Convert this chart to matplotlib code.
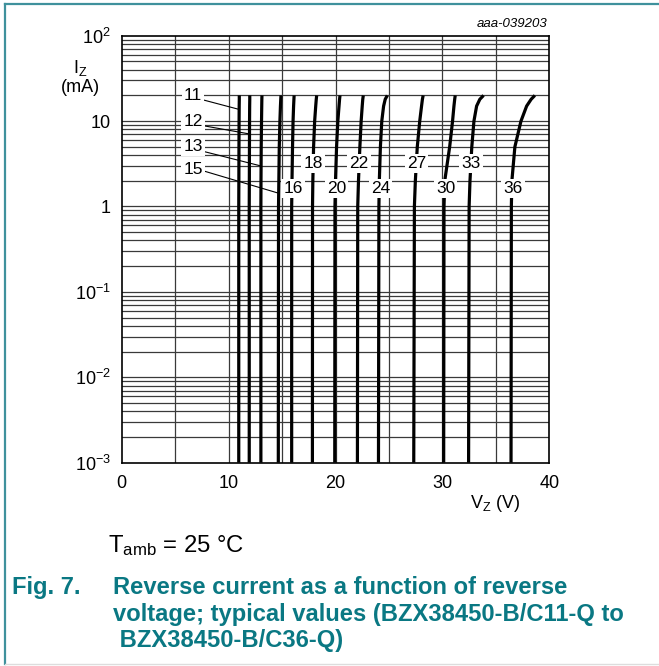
import numpy as np
import matplotlib
matplotlib.use('Agg')
import matplotlib.pyplot as plt
from matplotlib.lines import Line2D

plt.rcParams['font.family'] = ['Liberation Sans', 'DejaVu Sans']
plt.rcParams['mathtext.fontset'] = 'custom'
plt.rcParams['mathtext.rm'] = 'Liberation Sans'
plt.rcParams['mathtext.it'] = 'Liberation Sans:italic'
plt.rcParams['mathtext.bf'] = 'Liberation Sans:bold'

# ---- data ----
current_levels = [0.001, 1, 2, 5, 10, 15, 18, 20]  # I_Z (mA)
curve_labels = ['11', '12', '13', '15', '16', '18', '20', '22', '24', '27', '30', '33', '36']
vz_11 = [10.95, 10.95, 10.96, 10.97, 10.98, 10.99, 11.00, 11.00]
vz_12 = [11.93, 11.93, 11.94, 11.95, 11.96, 11.97, 11.98, 11.98]
vz_13 = [13.02, 13.02, 13.03, 13.05, 13.08, 13.10, 13.11, 13.12]
vz_15 = [14.65, 14.67, 14.70, 14.74, 14.80, 14.85, 14.88, 14.90]
vz_16 = [15.90, 15.90, 15.93, 15.98, 16.03, 16.08, 16.11, 16.13]
vz_18 = [17.84, 17.85, 17.88, 17.95, 18.05, 18.15, 18.20, 18.24]
vz_20 = [19.93, 19.95, 20.00, 20.10, 20.22, 20.33, 20.38, 20.42]
vz_22 = [22.05, 22.08, 22.15, 22.28, 22.40, 22.50, 22.55, 22.60]
vz_24 = [24.02, 24.06, 24.10, 24.20, 24.33, 24.50, 24.65, 24.85]
vz_27 = [27.32, 27.38, 27.47, 27.65, 27.88, 28.05, 28.13, 28.20]
vz_30 = [30.12, 30.15, 30.22, 30.68, 30.95, 31.08, 31.15, 31.20]
vz_33 = [32.45, 32.50, 32.58, 32.75, 32.95, 33.20, 33.50, 33.85]
vz_36 = [36.42, 36.45, 36.50, 36.78, 37.35, 37.88, 38.30, 38.65]
curves = [vz_11, vz_12, vz_13, vz_15, vz_16, vz_18, vz_20, vz_22, vz_24,
          vz_27, vz_30, vz_33, vz_36]

x_ticks = [0, 10, 20, 30, 40]
x_tick_labels = ['0', '10', '20', '30', '40']
y_ticks = [1e-3, 1e-2, 1e-1, 1, 10, 100]
y_tick_labels = ['$10^{-3}$', '$10^{-2}$', '$10^{-1}$', '1', '10', '$10^{2}$']

# label layout
left_labels = ['11', '12', '13', '15']
left_label_I = [20, 10, 5, 2.68]
left_leader_end_I = [13.7, 7.07, 2.98, 1.43]
row1_labels = ['18', '22', '27', '33']
row2_labels = ['16', '20', '24', '30', '36']
row1_I = 3.2
row2_I = 1.63

fig = plt.figure(figsize=(6.59, 6.66), dpi=100)
W, H = 659, 666

# outer frame
teal = '#3f919c'
fig.add_artist(Line2D([5 / W, 1.0], [1 - 4 / H, 1 - 4 / H], color=teal, lw=1.6, transform=fig.transFigure))
fig.add_artist(Line2D([5 / W, 5 / W], [1 - 4 / H, 2 / H], color=teal, lw=1.6, transform=fig.transFigure))
fig.add_artist(Line2D([5 / W, 1.0], [2.5 / H, 2.5 / H], color='#dddddd', lw=1.0, transform=fig.transFigure))

ax = fig.add_axes([121.7 / W, 1 - 462.7 / H, 427.6 / W, 427.0 / H])
ax.set_yscale('log')
ax.set_xlim(0, 40)
ax.set_ylim(1e-3, 100)

# grid
gcol = '#3a3a3a'
for v in [5, 10, 15, 20, 25, 30, 35]:
    ax.axvline(v, color=gcol, lw=0.9, zorder=1)
for d in range(-3, 2):
    for m in range(1, 10):
        val = m * 10.0 ** d
        if val > 1e-3:
            ax.axhline(val, color=gcol, lw=0.9, zorder=1)
for s in ax.spines.values():
    s.set_linewidth(1.2)
    s.set_color('black')

ax.set_xticks(x_ticks)
ax.set_xticklabels(x_tick_labels, fontsize=13)
ax.set_yticks(y_ticks)
ax.set_yticklabels(y_tick_labels, fontsize=13)
ax.minorticks_off()
ax.tick_params(axis='y', length=0, pad=8)
ax.tick_params(axis='x', length=0, pad=9)

logI = np.log10(current_levels)
for vz in curves:
    ax.plot(vz, current_levels, color='black', lw=2.3, zorder=3, solid_capstyle='butt', solid_joinstyle='round')

def v_at(lbl, I):
    vz = curves[curve_labels.index(lbl)]
    return float(np.interp(np.log10(I), logI, vz))

bbox = dict(boxstyle='square,pad=0.12', fc='white', ec='none')
lab_font = dict(fontsize=12.5, family=['Liberation Sans', 'DejaVu Sans'])
for lbl, I, Ie in zip(left_labels, left_label_I, left_leader_end_I):
    ax.text(6.67, I, lbl, ha='center', va='center', zorder=5, bbox=bbox, **lab_font)
    ax.plot([7.7, v_at(lbl, Ie)], [I * 0.88 if lbl != '15' else I * 0.97, Ie], color='black', lw=0.8, zorder=4)
for lbl in row1_labels:
    ax.text(v_at(lbl, row1_I), row1_I, lbl, ha='center', va='center', zorder=5, bbox=bbox, **lab_font)
for lbl in row2_labels:
    ax.text(v_at(lbl, row2_I) + 0.1, row2_I, lbl, ha='center', va='center', zorder=5, bbox=bbox, **lab_font)

# axis titles
fig.text(80 / W, 1 - 68 / H, r'$\mathregular{I_Z}$', ha='center', va='center', fontsize=13)
fig.text(80 / W, 1 - 88 / H, '(mA)', ha='center', va='center', fontsize=13)
fig.text(495 / W, 1 - 504 / H, r'$\mathregular{V_Z}$ (V)', ha='center', va='center', fontsize=13)
fig.text(547 / W, 1 - 24 / H, 'aaa-039203', ha='right', va='center', fontsize=9.5, style='italic')

fig.text(108 / W, 1 - 552 / H, r'$\mathregular{T_{amb}}$ = 25 °C', ha='left', va='baseline', fontsize=17.2)

cap = '#0a7883'
cfs = 17.1
fig.text(12 / W, 1 - 594 / H, 'Fig. 7.', ha='left', va='baseline', fontsize=cfs, fontweight='bold', color=cap)
fig.text(113 / W, 1 - 594 / H, 'Reverse current as a function of reverse', ha='left', va='baseline',
         fontsize=cfs, fontweight='bold', color=cap)
fig.text(113 / W, 1 - 621 / H, 'voltage; typical values (BZX38450-B/C11-Q to', ha='left', va='baseline',
         fontsize=cfs, fontweight='bold', color=cap)
fig.text(113 / W, 1 - 647 / H, ' BZX38450-B/C36-Q)', ha='left', va='baseline',
         fontsize=cfs, fontweight='bold', color=cap)

fig.savefig('out.png', dpi=100)
